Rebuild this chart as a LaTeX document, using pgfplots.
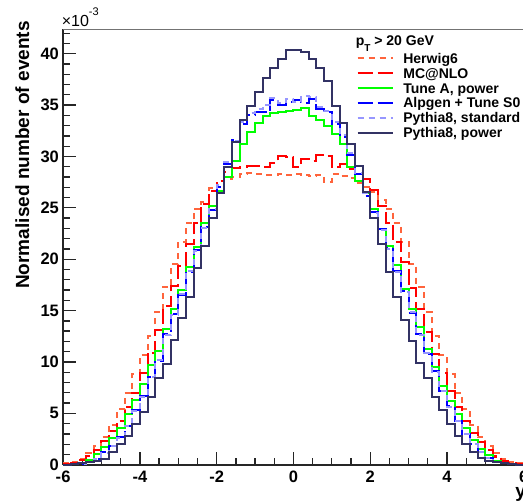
\documentclass[border=0pt]{standalone}
\usepackage{pgfplots}
\pgfplotsset{compat=1.18}
\usepackage{pgfplotstable}
\usepackage{fontspec}
\setmainfont{Liberation Sans}

\definecolor{herwigcol}{RGB}{255,100,60}
\definecolor{mcnlocol}{RGB}{255,0,0}
\definecolor{tuneacol}{RGB}{0,255,0}
\definecolor{alpgencol}{RGB}{0,0,255}
\definecolor{pystdcol}{RGB}{150,150,255}
\definecolor{pypowcol}{RGB}{50,50,100}

% bin left edges (width 0.2), contents in units of 1e-3; last row closes the last bin
% H = Herwig6, R = MC@NLO, G = Tune A power, B = Alpgen + Tune S0, L = Pythia8 standard, N = Pythia8 power
\pgfplotstableread{
x     H     R     G     B     L     N
-6.0  0.12  0.05  0.02  0.01  0.01  0.02
-5.8  0.3   0.13  0.05  0.04  0.04  0.05
-5.6  0.6   0.45  0.15  0.1   0.1   0.12
-5.4  1.1   0.88  0.5   0.25  0.25  0.25
-5.2  1.8   1.4   1.0   0.55  0.55  0.4
-5.0  2.7   2.3   1.7   1.2   1.1   0.6
-4.8  3.9   3.3   2.6   1.8   1.8   1.2
-4.6  5.4   4.3   3.6   2.7   2.6   2.0
-4.4  7.0   5.6   4.9   3.8   3.8   2.8
-4.2  8.8   7.0   6.3   5.3   5.2   4.0
-4.0  10.7  8.9   7.9   6.7   6.6   5.1
-3.8  12.5  10.9  9.7   8.5   8.5   6.6
-3.6  14.9  13.1  11.1  10.1  10.2  8.4
-3.4  17.3  15.4  13.2  12.7  12.6  9.8
-3.2  19.5  17.4  15.2  14.7  14.6  12.1
-3.0  21.7  19.3  17.0  16.5  16.6  14.3
-2.8  23.5  21.5  19.2  18.8  18.9  16.3
-2.6  24.9  23.5  21.2  20.9  20.8  19.1
-2.4  25.6  25.4  23.5  23.1  23.0  21.3
-2.2  26.9  26.6  25.2  24.8  24.9  24.0
-2.0  27.4  27.6  26.6  27.0  27.2  26.4
-1.8  27.8  28.5  28.0  29.3  29.5  29.0
-1.6  28.0  28.9  29.6  31.6  31.5  31.4
-1.4  28.3  29.0  31.2  33.2  33.4  33.5
-1.2  28.4  29.1  32.4  34.0  34.2  34.9
-1.0  28.3  29.1  33.3  34.3  34.6  36.3
-0.8  28.2  29.0  33.9  34.3  35.0  37.6
-0.6  28.2  29.4  34.2  35.5  35.7  38.6
-0.4  28.3  30.0  34.3  35.0  35.2  39.5
-0.2  28.2  29.9  34.4  35.3  35.6  40.4
 0.0  28.3  29.0  34.5  35.5  35.3  40.4
 0.2  28.2  29.8  34.7  35.2  35.9  40.2
 0.4  28.1  29.6  33.9  35.6  35.8  39.5
 0.6  28.2  30.1  33.5  34.6  34.8  38.6
 0.8  27.5  30.0  33.0  34.3  34.4  37.3
 1.0  28.3  29.0  32.2  33.2  33.4  34.9
 1.2  28.1  29.3  31.2  31.9  32.1  33.3
 1.4  27.9  28.8  29.0  30.1  30.3  31.2
 1.6  27.4  28.3  27.6  28.3  28.4  29.1
 1.8  27.0  27.8  26.4  26.2  26.4  26.5
 2.0  26.5  26.7  24.9  24.6  24.5  24.0
 2.2  25.8  25.2  22.9  22.9  22.8  21.5
 2.4  24.9  23.5  21.3  21.1  21.0  18.8
 2.6  23.5  21.7  19.4  18.9  18.8  16.3
 2.8  21.7  19.7  17.1  16.9  16.8  14.1
 3.0  19.5  17.2  15.2  14.8  14.9  12.0
 3.2  17.3  15.2  13.4  12.7  12.6  9.9
 3.4  14.9  12.9  11.3  10.8  10.9  8.4
 3.6  12.5  10.8  9.5   9.1   9.0   6.6
 3.8  10.7  8.9   7.7   7.2   7.2   5.3
 4.0  8.8   7.2   6.2   5.7   5.6   4.0
 4.2  7.0   5.6   4.9   4.3   4.3   2.8
 4.4  5.4   4.3   3.6   3.0   3.0   2.0
 4.6  3.9   3.1   2.4   2.0   2.0   1.2
 4.8  2.7   2.2   1.5   1.2   1.2   0.7
 5.0  1.8   1.4   0.9   0.7   0.7   0.4
 5.2  1.1   0.8   0.4   0.3   0.3   0.25
 5.4  0.6   0.4   0.15  0.12  0.12  0.12
 5.6  0.3   0.15  0.05  0.04  0.04  0.05
 5.8  0.12  0.05  0.02  0.01  0.01  0.02
 6.0  0.12  0.05  0.02  0.01  0.01  0.02
}\histos

\begin{document}
\begin{tikzpicture}
\begin{axis}[
  at={(0,0)}, anchor=south west,
  scale only axis, width=460bp, height=435bp,
  xmin=-6, xmax=6, ymin=0, ymax=42.4,
  clip=false,
  axis lines*=left,
  axis line style={-, line width=1.6bp, draw=black!85},
  tick align=inside,
  xtick={-6,-4,-2,0,2,4,6}, xticklabels={-6,-4,-2,0,2,4,6},
  minor xtick={-5.5,-5,-4.5,-3.5,-3,-2.5,-1.5,-1,-0.5,0.5,1,1.5,2.5,3,3.5,4.5,5,5.5},
  ytick={0,5,10,15,20,25,30,35,40}, yticklabels={0,5,10,15,20,25,30,35,40},
  minor ytick={0,1,...,42},
  major tick length=13bp, minor tick length=7bp,
  tick style={black!85, line width=1.3bp},
  tick label style={font=\fontsize{16.5bp}{19bp}\selectfont\bfseries},
  xticklabel style={inner sep=0pt, yshift=-6bp},
  yticklabel style={inner sep=0pt, xshift=-4bp},
]
\addplot[const plot, herwigcol, line width=2bp, dash pattern=on 6bp off 5bp] table[x=x, y=H]{\histos};
\addplot[const plot, mcnlocol, line width=2bp, dash pattern=on 15bp off 5bp] table[x=x, y=R]{\histos};
\addplot[const plot, tuneacol, line width=2bp] table[x=x, y=G]{\histos};
\addplot[const plot, alpgencol, line width=2bp, dash pattern=on 15bp off 5bp] table[x=x, y=B]{\histos};
\addplot[const plot, pystdcol, line width=2bp, dash pattern=on 6bp off 5bp] table[x=x, y=L]{\histos};
\addplot[const plot, pypowcol, line width=2bp] table[x=x, y=N]{\histos};
\draw[black!55, line width=1bp] (rel axis cs:0,1) -- (rel axis cs:1,1);
\coordinate (bl) at (rel axis cs:0,0);
\coordinate (tr) at (rel axis cs:1,1);
\end{axis}

% labels and legend, placed in pixel units of the reference
\begin{scope}[x=1bp, y=-1bp, shift={(-63,-464)}]
  \node[rotate=90, anchor=base east, inner sep=0, font=\fontsize{19bp}{22bp}\selectfont\bfseries] at (29,21) {Normalised number of events};
  \node[anchor=base west, inner sep=0, font=\fontsize{19bp}{22bp}\selectfont\bfseries] at (514.5,497) {y};
  \node[anchor=base west, inner sep=0, font=\fontsize{16bp}{18bp}\selectfont] at (61.5,26.7) {×10\raisebox{11bp}{\fontsize{11bp}{12bp}\selectfont -3}};
  \node[anchor=base west, inner sep=0, font=\fontsize{14bp}{16bp}\selectfont\bfseries] at (355,45) {p\raisebox{-6.5bp}{\fontsize{10bp}{11bp}\selectfont T} > 20 GeV};
  \draw[draw=herwigcol, line width=2bp, dash pattern=on 6bp off 5bp] (357,58.3) -- (392,58.3);
  \draw[draw=mcnlocol, line width=2bp, dash pattern=on 15bp off 5bp] (357,73.3) -- (392,73.3);
  \draw[draw=tuneacol, line width=2bp] (357,88.3) -- (392,88.3);
  \draw[draw=alpgencol, line width=2bp, dash pattern=on 15bp off 5bp] (357,102.7) -- (392,102.7);
  \draw[draw=pystdcol, line width=2bp, dash pattern=on 6bp off 5bp] (357,117.7) -- (392,117.7);
  \draw[draw=pypowcol, line width=2bp] (357,132.7) -- (392,132.7);
  \begin{scope}[every node/.style={anchor=base west, inner sep=0, font=\fontsize{14bp}{16bp}\selectfont\bfseries}]
    \node at (402.5,63.3) {Herwig6};
    \node at (402.5,78.3) {MC@NLO};
    \node at (402.5,93.3) {Tune A, power};
    \node at (402.5,107.7) {Alpgen + Tune S0};
    \node at (402.5,122.7) {Pythia8, standard};
    \node at (402.5,137.7) {Pythia8, power};
  \end{scope}
\end{scope}

\pgfresetboundingbox
\path[use as bounding box] ([xshift=-63bp,yshift=-39bp]bl) rectangle ([xshift=-0.8bp,yshift=29bp]tr);
\end{tikzpicture}
\end{document}
